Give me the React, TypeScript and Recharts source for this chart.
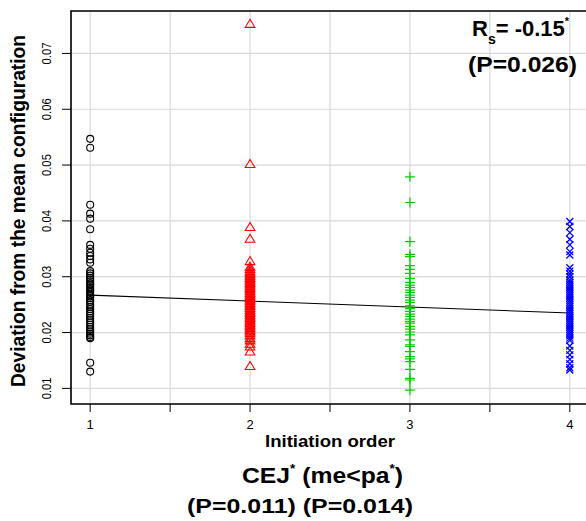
import { CartesianGrid, ReferenceArea, ReferenceLine, Scatter, ScatterChart, XAxis, YAxis } from 'recharts';

// #region Sample data
const orders = [1, 2, 3, 4];
const xTicks = [1, 1.5, 2, 2.5, 3, 3.5, 4];
const yTicks = [0.01, 0.02, 0.03, 0.04, 0.05, 0.06, 0.07];

// initiation order 1 (black circles)
const order1 = [
  0.0547, 0.0531, 0.0429, 0.0413, 0.0404, 0.0385, 0.0357, 0.035, 0.0343, 0.0337, 0.0331, 0.0325,
  0.031, 0.0306, 0.0302, 0.0298, 0.0295, 0.0292, 0.0288, 0.0285, 0.0281, 0.0278, 0.0275, 0.0272,
  0.0268, 0.0265, 0.0262, 0.0258, 0.0255, 0.025, 0.0246, 0.0242, 0.0238, 0.0234, 0.023, 0.0226,
  0.0222, 0.0218, 0.0214, 0.021, 0.0206, 0.0202, 0.0198, 0.0195, 0.0192, 0.019, 0.0146, 0.013,
];
// initiation order 2 (red triangles)
const order2 = [
  0.0753, 0.0502, 0.0389, 0.0368, 0.0328, 0.0318, 0.0314, 0.031, 0.0307, 0.0304, 0.0301, 0.0298,
  0.0295, 0.0292, 0.0289, 0.0286, 0.0283, 0.028, 0.0277, 0.0274, 0.0271, 0.0268, 0.0265, 0.0262,
  0.0259, 0.0256, 0.0253, 0.025, 0.0247, 0.0244, 0.0241, 0.0238, 0.0235, 0.0232, 0.0229, 0.0226,
  0.0223, 0.022, 0.0217, 0.0214, 0.0211, 0.0208, 0.0205, 0.0202, 0.0199, 0.0195, 0.019, 0.0186,
  0.018, 0.0175, 0.0166, 0.014,
];
// initiation order 3 (green plus)
const order3 = [
  0.0479, 0.0433, 0.0363, 0.034, 0.0336, 0.032, 0.0313, 0.0306, 0.0297, 0.029, 0.0285, 0.0281,
  0.0276, 0.0272, 0.0267, 0.0263, 0.0258, 0.0254, 0.0248, 0.0243, 0.0238, 0.0233, 0.0229, 0.0224,
  0.022, 0.0217, 0.0211, 0.0206, 0.0201, 0.0196, 0.0187, 0.0178, 0.0175, 0.0166, 0.0157, 0.0153,
  0.0148, 0.0134, 0.0118, 0.0115, 0.0097,
];
// initiation order 4 (blue x)
const order4 = [
  0.0399, 0.039, 0.0379, 0.0367, 0.0357, 0.0345, 0.0339, 0.0316, 0.031, 0.0305, 0.03, 0.0294,
  0.029, 0.0286, 0.0282, 0.0278, 0.0274, 0.027, 0.0266, 0.0262, 0.0258, 0.0254, 0.025, 0.0246,
  0.0242, 0.0238, 0.0234, 0.023, 0.0226, 0.0222, 0.0218, 0.0214, 0.021, 0.0206, 0.0202, 0.0198,
  0.0194, 0.019, 0.0186, 0.0176, 0.0168, 0.016, 0.0152, 0.0144, 0.0137, 0.0133,
];
// fitted line end points
const fitStart = 0.0267;
const fitEnd = 0.0235;
// #endregion

const font = '"Liberation Sans", Arial, Helvetica, sans-serif';
const toPoints = (order: number, values: number[]) => values.map((v) => ({ x: order, y: v }));

const Circle = (p: any) => <circle cx={p.cx} cy={p.cy} r={3.5} fill="none" stroke="#000" strokeWidth={1.1} />;
const Triangle = (p: any) => (
  <path d={`M${p.cx},${p.cy - 4.5}L${p.cx + 4.8},${p.cy + 3.5}L${p.cx - 4.8},${p.cy + 3.5}Z`} fill="none" stroke="#ff0000" strokeWidth={1.1} />
);
const Plus = (p: any) => (
  <path d={`M${p.cx - 5},${p.cy}H${p.cx + 5}M${p.cx},${p.cy - 5}V${p.cy + 5}`} stroke="#00cd00" strokeWidth={1.2} />
);
const Cross = (p: any) => (
  <path d={`M${p.cx - 3.5},${p.cy - 3.5}L${p.cx + 3.5},${p.cy + 3.5}M${p.cx + 3.5},${p.cy - 3.5}L${p.cx - 3.5},${p.cy + 3.5}`} stroke="#0000ff" strokeWidth={1.3} />
);

const YTick = ({ x, y, payload }: any) => (
  <text x={x - 9} y={y} transform={`rotate(-90, ${x - 9}, ${y})`} textAnchor="middle" fontSize={13} fontFamily={font} fill="#000" textLength={22} lengthAdjust="spacingAndGlyphs">
    {payload.value.toFixed(2)}
  </text>
);
const XTick = ({ x, payload }: any) =>
  Number.isInteger(payload.value) ? (
    <text x={x} y={429} textAnchor="middle" fontSize={13} fontFamily={font} fill="#000">
      {payload.value}
    </text>
  ) : null;

export default function App() {
  return (
    <div style={{ position: 'fixed', left: 0, top: 0, width: 586, height: 521, overflow: 'hidden', background: '#fff' }}>
      <ScatterChart width={600} height={521} margin={{ top: 11, right: 11, left: 0, bottom: 87 }}>
        <CartesianGrid stroke="#d9d9d9" strokeWidth={1.2} />
        <XAxis
          type="number"
          dataKey="x"
          domain={[0.88, 4.12]}
          ticks={xTicks}
          allowDataOverflow
          height={30}
          tickSize={8}
          stroke="#000"
          axisLine={false}
          tick={<XTick />}
        />
        <YAxis
          type="number"
          dataKey="y"
          domain={[0.0072, 0.0776]}
          ticks={yTicks}
          allowDataOverflow
          width={71}
          tickSize={9}
          stroke="#000"
          axisLine={false}
          tick={<YTick />}
        />
        <ReferenceArea x1={0.88} x2={4.12} y1={0.0072} y2={0.0776} fill="none" stroke="#000" strokeWidth={1.6} />
        <ReferenceLine segment={[{ x: orders[0], y: fitStart }, { x: orders[3], y: fitEnd }]} stroke="#000" strokeWidth={1.1} />
        <Scatter data={toPoints(orders[0], order1)} shape={Circle} isAnimationActive={false} />
        <Scatter data={toPoints(orders[1], order2)} shape={Triangle} isAnimationActive={false} />
        <Scatter data={toPoints(orders[2], order3)} shape={Plus} isAnimationActive={false} />
        <Scatter data={toPoints(orders[3], order4)} shape={Cross} isAnimationActive={false} />
      </ScatterChart>
      <svg width={586} height={521} style={{ position: 'absolute', left: 0, top: 0, pointerEvents: 'none' }} fontFamily={font} fontWeight="bold" fill="#000">
        <text x={25} y={211} transform="rotate(-90, 25, 211)" textAnchor="middle" fontSize={19.5} textLength={352} lengthAdjust="spacingAndGlyphs">
          Deviation from the mean configuration
        </text>
        <text x={330} y={447} textAnchor="middle" fontSize={17} textLength={130} lengthAdjust="spacingAndGlyphs">
          Initiation order
        </text>
        <text x={472} y={36} fontSize={22}>
          R<tspan fontSize={14} dy={8}>s</tspan>
          <tspan dy={-8}>= -0.15</tspan>
          <tspan fontSize={11} dy={-11}>*</tspan>
        </text>
        <text x={468} y={72} fontSize={22} textLength={109} lengthAdjust="spacingAndGlyphs">
          (P=0.026)
        </text>
        <text x={242} y={483} fontSize={22} textLength={161} lengthAdjust="spacingAndGlyphs">
          CEJ<tspan fontSize={12} dy={-10}>*</tspan>
          <tspan dy={10}> (me&lt;pa</tspan>
          <tspan fontSize={12} dy={-10}>*</tspan>
          <tspan dy={10}>)</tspan>
        </text>
        <text x={187} y={513} fontSize={21} textLength={226} lengthAdjust="spacingAndGlyphs">
          (P=0.011) (P=0.014)
        </text>
      </svg>
    </div>
  );
}
